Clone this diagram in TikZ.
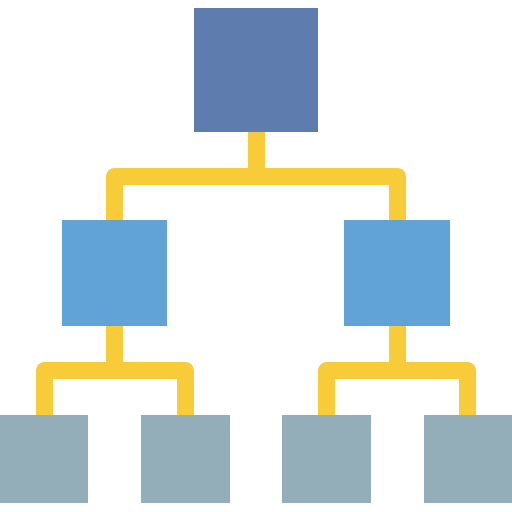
\documentclass[tikz,border=0pt]{standalone}
\definecolor{topc}{HTML}{5F7CAF}
\definecolor{midc}{HTML}{61A3D7}
\definecolor{botc}{HTML}{93AEB9}
\definecolor{linkc}{HTML}{F8CC38}
\begin{document}
\begin{tikzpicture}[x=1pt,y=-1pt,
  box/.style={draw=none,inner sep=0pt,outer sep=0pt,rectangle},
  topbox/.style={box,fill=topc,minimum width=124pt,minimum height=124pt},
  midbox/.style={box,fill=midc,minimum width=105.5pt,minimum height=106pt},
  botbox/.style={box,fill=botc,minimum width=88.5pt,minimum height=88.5pt},
  link/.style={draw=linkc,line width=17pt,line join=round,line cap=butt}]
\useasboundingbox (0,0) rectangle (512,512);
\node[topbox] (top) at (256,70) {};
\node[midbox] (ml) at (114.6,273) {};
\node[midbox] (mr) at (397.2,273) {};
\node[botbox] (b1) at (44.1,459.2) {};
\node[botbox] (b2) at (185.5,459.2) {};
\node[botbox] (b3) at (326.7,459.2) {};
\node[botbox] (b4) at (467.8,459.2) {};
\coordinate (j0) at (256,176.5);
\coordinate (j1) at (114.6,370.8);
\coordinate (j2) at (397.2,370.8);
\draw[link] (top.south) -- (j0);
\draw[link] (ml.north) |- (j0) -| (mr.north);
\draw[link] (ml.south) -- (j1);
\draw[link] (b1.north) |- (j1) -| (b2.north);
\draw[link] (mr.south) -- (j2);
\draw[link] (b3.north) |- (j2) -| (b4.north);
\end{tikzpicture}
\end{document}
